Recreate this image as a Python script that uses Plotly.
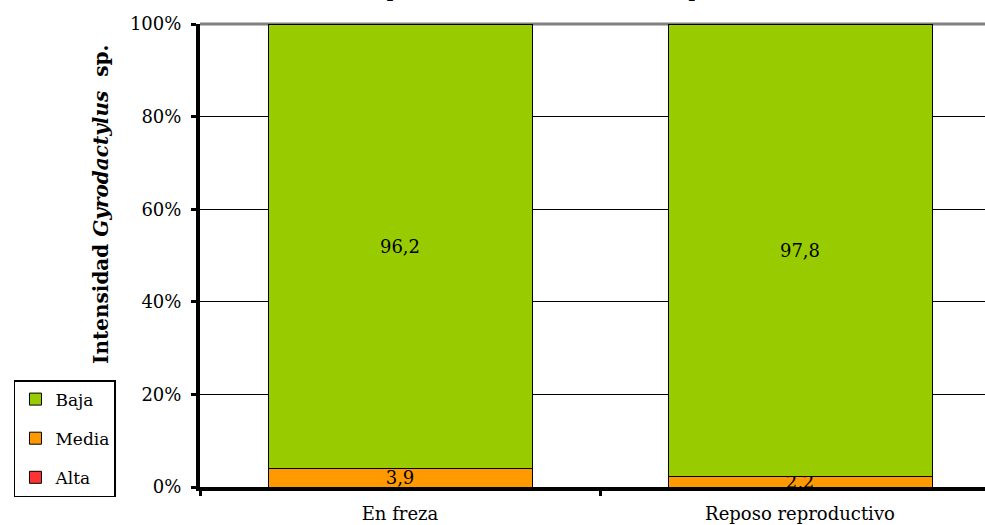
import plotly.graph_objects as go

# Intensity classes per reproductive period (percent of fish)
periodos = ["En freza", "Reposo reproductivo"]
alta = [0.0, 0.0]
media = [3.9, 2.2]
baja = [96.2, 97.8]
ticks_y = [0, 20, 40, 60, 80, 100]

# (name, values, colour, legend rank) – stacked bottom to top
series = [
    ("Alta", alta, "#FF3333", 3),
    ("Media", media, "#FF9900", 2),
    ("Baja", baja, "#99CC00", 1),
]

FONT = "DejaVu Serif"
FS = 18

fig = go.Figure()
for nombre, valores, color, rango in series:
    etiquetas = [("" if v == 0 else f"{v:.1f}".replace(".", ",")) for v in valores]
    fig.add_trace(go.Bar(
        name=nombre,
        x=periodos,
        y=valores,
        text=etiquetas,
        textposition="inside",
        insidetextanchor="middle",
        textangle=0,
        insidetextfont=dict(family=FONT, size=FS, color="black"),
        marker=dict(color=color, line=dict(color="black", width=1)),
        width=0.66,
        legendgroup=nombre,
        legendrank=rango,
    ))

fig.update_layout(
    width=985,
    height=525,
    margin=dict(l=200, r=0, t=24, b=38),
    paper_bgcolor="white",
    plot_bgcolor="white",
    barmode="stack",
    barnorm="percent",
    font=dict(family=FONT, size=FS, color="black"),
    uniformtext=dict(minsize=FS, mode="show"),
    showlegend=True,
    legend=dict(
        x=-0.237, y=0.231, xanchor="left", yanchor="top",
        bordercolor="black", borderwidth=1.5, bgcolor="white",
        traceorder="grouped", tracegroupgap=14,
        font=dict(family=FONT, size=17, color="black"),
        itemwidth=30,
    ),
    xaxis=dict(
        range=[-0.5, 1.4625],
        showline=True, linecolor="black", linewidth=4,
        ticks="outside", tickson="boundaries", ticklen=5, tickwidth=3, tickcolor="black",
        showgrid=False,
        ticklabelstandoff=7,
        tickfont=dict(family=FONT, size=FS),
    ),
    yaxis=dict(
        range=[0, 100],
        tickvals=ticks_y,
        ticktext=[f"{v}%" for v in ticks_y],
        showline=True, linecolor="black", linewidth=4,
        ticks="outside", ticklen=5, tickwidth=3, tickcolor="black",
        showgrid=True, gridcolor="black", gridwidth=1,
        zeroline=False,
        ticklabelstandoff=6,
        tickfont=dict(family=FONT, size=FS),
    ),
    shapes=[
        dict(type="line", xref="paper", yref="paper", x0=0, x1=1, y0=1, y1=1,
             line=dict(color="#808080", width=3), layer="below"),
    ],
    annotations=[
        dict(text="<b>Intensidad <i>Gyrodactylus</i>  sp.</b>", textangle=-90,
             xref="paper", yref="paper", x=-0.127, y=0.61,
             xanchor="center", yanchor="middle", showarrow=False,
             font=dict(family=FONT, size=20, color="black")),
        dict(text="Intensidad parasitaria (en %) en cada periodo",
             xref="paper", yref="paper", x=0.405, y=1.046,
             xanchor="center", yanchor="bottom", showarrow=False,
             font=dict(family=FONT, size=22, color="black")),
    ],
)

fig.write_html("out.html")
